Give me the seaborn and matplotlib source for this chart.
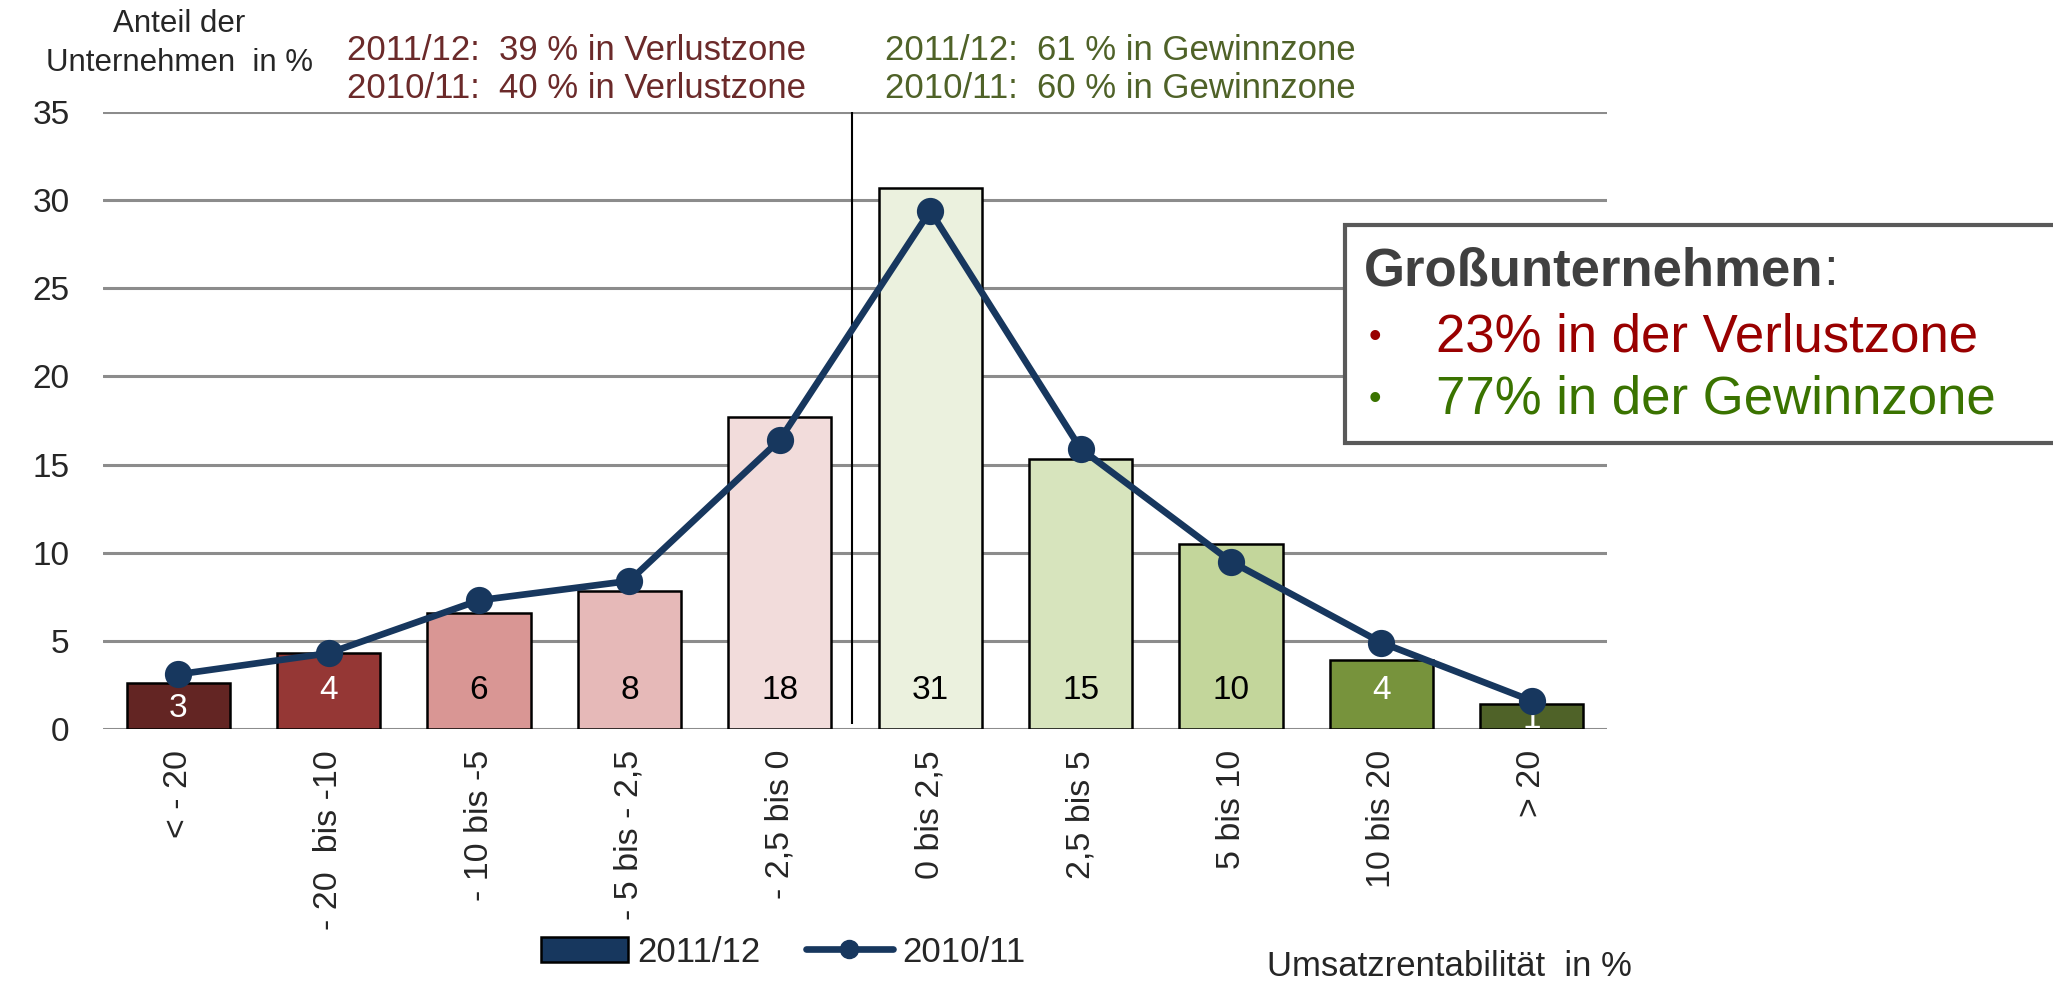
import seaborn as sns
import matplotlib.pyplot as plt
import pandas as pd
from matplotlib.patches import Patch, Rectangle
from matplotlib.lines import Line2D

# Umsatzrentabilität classes (x axis)
categories = ["< - 20", "- 20  bis -10", "- 10 bis -5", "- 5 bis - 2,5", "- 2,5 bis 0",
              "0 bis 2,5", "2,5 bis 5", "5 bis 10", "10 bis 20", "> 20"]
# Anteil der Unternehmen in %
share_2011_12 = [2.6, 4.3, 6.6, 7.8, 17.7, 30.7, 15.3, 10.5, 3.9, 1.4]
share_2010_11 = [3.1, 4.3, 7.3, 8.4, 16.4, 29.4, 15.9, 9.5, 4.9, 1.6]
bar_labels = ["3", "4", "6", "8", "18", "31", "15", "10", "4", "1"]

bar_colors = ["#632523", "#953735", "#d99694", "#e6b9b8", "#f2dcdb",
              "#ebf1de", "#d7e4bd", "#c3d69b", "#77933c", "#4f6228"]
label_colors = ["white", "white", "black", "black", "black",
                "black", "black", "black", "white", "white"]
navy = "#17375e"

sns.set_style("white")
plt.rcParams["font.family"] = ["Liberation Sans", "DejaVu Sans"]

df = pd.DataFrame({"klasse": categories, "y1112": share_2011_12, "y1011": share_2010_11})

W, H = 2053, 985
fig = plt.figure(figsize=(W / 100, H / 100), dpi=100)
ax = fig.add_axes([103 / W, 1 - 729 / H, 1504 / W, 617 / H])

sns.barplot(data=df, x="klasse", y="y1112", hue="klasse", palette=bar_colors,
            legend=False, width=0.685, saturation=1, edgecolor="black",
            linewidth=1.8, ax=ax, zorder=2)

# value labels inside the bars
for i, (v, lab, c) in enumerate(zip(share_2011_12, bar_labels, label_colors)):
    ypos = 2.2 if v > 3.5 else v / 2 - 0.15
    ax.text(i, ypos, lab, ha="center", va="center", fontsize=24, color=c, zorder=3)

sns.pointplot(data=df, x="klasse", y="y1011", color=navy, markers="o",
              linestyles="-", linewidth=4.8, markersize=16, ax=ax, zorder=4)

ax.vlines(4.48, 0.3, 35, color="black", lw=1.5, zorder=1)

ax.set_xlim(-0.5, 9.5)
ax.set_ylim(0, 35)
ax.set_yticks(range(0, 36, 5))
ax.yaxis.grid(True, color="#8c8c8c", lw=2.2)
ax.set_axisbelow(True)
for s in ax.spines.values():
    s.set_visible(False)
ax.tick_params(axis="both", length=0)
ax.tick_params(axis="y", labelsize=24, pad=24)
ax.tick_params(axis="x", labelsize=24.5, pad=15, labelrotation=90)
ax.set_xlabel("")
ax.set_ylabel("")

# y axis title
fig.text(179 / W, 1 - 24 / H, "Anteil der", ha="center", va="center", fontsize=22.5)
fig.text(179 / W, 1 - 63 / H, "Unternehmen  in %", ha="center", va="center", fontsize=22.5)

# zone annotations
red_txt = "#6b2a2a"
green_txt = "#4f6228"
fig.text(347 / W, 1 - 50 / H, "2011/12:  39 % in Verlustzone", ha="left", va="center",
         fontsize=25, color=red_txt)
fig.text(347 / W, 1 - 89 / H, "2010/11:  40 % in Verlustzone", ha="left", va="center",
         fontsize=25, color=red_txt)
fig.text(885 / W, 1 - 50 / H, "2011/12:  61 % in Gewinnzone", ha="left", va="center",
         fontsize=25, color=green_txt)
fig.text(885 / W, 1 - 89 / H, "2010/11:  60 % in Gewinnzone", ha="left", va="center",
         fontsize=25, color=green_txt)

# Großunternehmen box
fig.patches.append(Rectangle((1345 / W, 1 - 443 / H), 0.4, 218 / H,
                             transform=fig.transFigure, facecolor="white",
                             edgecolor="#595959", lw=3, zorder=5))
t = fig.text(1364 / W, 1 - 271 / H, "Großunternehmen", ha="left", va="center",
             fontsize=38, fontweight="bold", color="#404040", zorder=6)
fig.canvas.draw()
bb = t.get_window_extent()
fig.text(bb.x1 / fig.bbox.width, 1 - 271 / H, ":", ha="left", va="center",
         fontsize=38, color="#404040", zorder=6)
fig.text(1375 / W, 1 - 338 / H, "•", ha="center", va="center", fontsize=26,
         color="#990000", zorder=6)
fig.text(1436 / W, 1 - 338 / H, "23% in der Verlustzone", ha="left", va="center",
         fontsize=38, color="#990000", zorder=6)
fig.text(1375 / W, 1 - 399 / H, "•", ha="center", va="center", fontsize=26,
         color="#3a7300", zorder=6)
fig.text(1436 / W, 1 - 399 / H, "77% in der Gewinnzone", ha="left", va="center",
         fontsize=38, color="#3a7300", zorder=6)

# legend
handles = [Patch(facecolor=navy, edgecolor="black", lw=1.8),
           Line2D([0], [0], color=navy, lw=4.8, marker="o", markersize=13)]
fig.legend(handles, ["2011/12", "2010/11"], loc="center left",
           bbox_to_anchor=(541 / W, 1 - 952 / H), ncol=2, frameon=False,
           fontsize=25, handlelength=2.5, handleheight=0.72, handletextpad=0.26,
           columnspacing=1.32, borderpad=0, borderaxespad=0, numpoints=1)

fig.text(1267 / W, 1 - 966 / H, "Umsatzrentabilität  in %", ha="left", va="center",
         fontsize=25)

fig.savefig("out.png", dpi=100)
